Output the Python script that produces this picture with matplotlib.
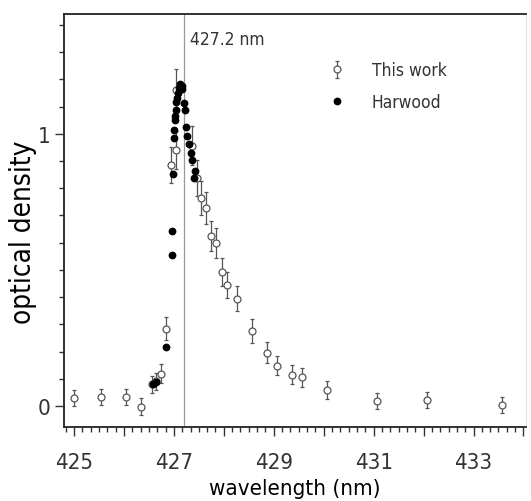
import matplotlib
matplotlib.use("Agg")
import matplotlib.pyplot as plt
from matplotlib.ticker import MultipleLocator, FuncFormatter

# "This work" open circles with error bars
work_x = [425.00, 425.55, 426.05, 426.34, 426.57, 426.65, 426.75, 426.85,
          426.95, 427.05, 427.05, 427.36, 427.47, 427.55, 427.65, 427.75,
          427.85, 427.96, 428.06, 428.27, 428.56, 428.86, 429.06, 429.37,
          429.56, 430.07, 431.06, 432.07, 433.58]
work_y = [0.030, 0.034, 0.033, -0.002, 0.079, 0.091, 0.119, 0.284,
          0.886, 0.941, 1.162, 0.957, 0.837, 0.765, 0.728, 0.624,
          0.599, 0.492, 0.443, 0.394, 0.276, 0.196, 0.148, 0.115,
          0.105, 0.058, 0.019, 0.023, 0.004]
work_err = [0.030, 0.030, 0.030, 0.030, 0.032, 0.032, 0.034, 0.043,
            0.066, 0.070, 0.076, 0.070, 0.065, 0.062, 0.060, 0.055,
            0.055, 0.050, 0.048, 0.046, 0.044, 0.038, 0.036, 0.034,
            0.034, 0.032, 0.030, 0.030, 0.030]

# Harwood data (filled dots)
harw_x = [426.59, 426.64, 426.85, 426.97, 426.97, 426.99, 427.00, 427.01,
          427.02, 427.03, 427.04, 427.05, 427.07, 427.09, 427.11, 427.13,
          427.16, 427.17, 427.20, 427.22, 427.24, 427.27, 427.31, 427.35,
          427.37, 427.40, 427.42]
harw_y = [0.079, 0.088, 0.216, 0.553, 0.642, 0.853, 0.985, 1.015,
          1.049, 1.067, 1.089, 1.116, 1.131, 1.150, 1.167, 1.182,
          1.177, 1.165, 1.113, 1.089, 1.024, 0.993, 0.963, 0.929,
          0.902, 0.837, 0.865]

plt.rcParams['font.family'] = 'DejaVu Sans'
plt.rcParams['font.stretch'] = 'condensed'
plt.rcParams['text.color'] = '#333333'

fig = plt.figure(figsize=(5.31, 5.02), dpi=100)
ax = fig.add_axes([0.1205, 0.147, 0.870, 0.823])

ax.axvline(427.2, color="#999999", lw=0.9, zorder=1)

eb = ax.errorbar(work_x, work_y, yerr=work_err, fmt="o", mfc="white", mec="#555555",
                 mew=0.9, ms=5, ecolor="#555555", elinewidth=0.9, capsize=1.6,
                 capthick=0.9, zorder=2)
hw, = ax.plot(harw_x, harw_y, "o", color="black", ms=4.6, zorder=3)

ax.set_xlim(424.8, 434.05)
ax.set_ylim(-0.078, 1.44)

ax.xaxis.set_major_locator(MultipleLocator(1))
ax.xaxis.set_minor_locator(MultipleLocator(1 / 6))
ax.xaxis.set_major_formatter(FuncFormatter(lambda v, p: "%d" % round(v) if round(v) % 2 == 1 else ""))
ax.yaxis.set_major_locator(MultipleLocator(1))
ax.yaxis.set_minor_locator(MultipleLocator(0.1))
ax.yaxis.set_major_formatter(FuncFormatter(lambda v, p: "%d" % round(v)))

ax.tick_params(which="major", length=6.5, width=1, color="#333333", labelsize=16,
               labelcolor="#333333")
ax.tick_params(which="minor", length=3.8, width=1, color="#333333")
ax.tick_params(axis="x", which="major", pad=11)
ax.tick_params(axis="y", which="major", pad=3)
ax.tick_params(top=False, right=False)

for s in ["left", "bottom", "top"]:
    ax.spines[s].set_color("#222222")
    ax.spines[s].set_linewidth(1.3)
ax.spines["right"].set_color("#e4e4e4")

ax.set_xlabel("wavelength (nm)", fontsize=16, labelpad=5)
ax.set_ylabel("optical density", fontsize=20)
ax.yaxis.set_label_coords(-0.058, 0.475)

ax.text(427.32, 1.33, "427.2 nm", fontsize=12.5)

leg = ax.legend([eb, hw], ["This work", "Harwood"], loc="upper left",
                bbox_to_anchor=(0.52, 0.923), frameon=False, fontsize=12.5,
                handletextpad=1.0, labelspacing=0.8)

fig.savefig("out.png", dpi=100)
